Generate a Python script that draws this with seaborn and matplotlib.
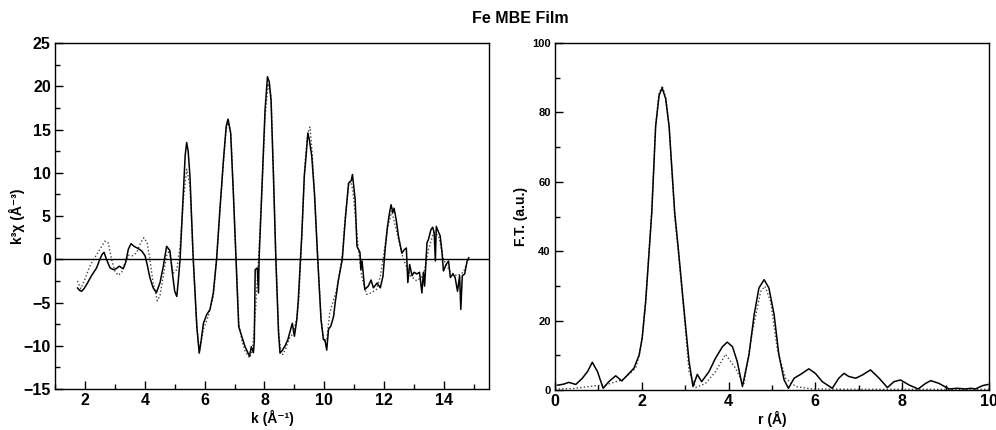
import matplotlib
matplotlib.use("Agg")
import matplotlib.pyplot as plt
from matplotlib.ticker import MultipleLocator
import seaborn as sns
import pandas as pd

# k-space EXAFS: measured k^3-weighted chi(k) and model fit
k_data = [1.75, 1.82, 1.89, 1.97, 2.06, 2.22, 2.39, 2.50, 2.58, 2.64, 2.72, 2.84, 2.95, 3.04,
          3.15, 3.28, 3.36, 3.45, 3.54, 3.64, 3.75, 3.90, 4.01, 4.08, 4.17, 4.28, 4.39, 4.51,
          4.62, 4.73, 4.84, 4.92, 5.00, 5.07, 5.12, 5.18, 5.29, 5.35, 5.40, 5.45, 5.51, 5.62,
          5.74, 5.82, 5.88, 5.96, 6.07, 6.18, 6.29, 6.40, 6.51, 6.63, 6.72, 6.78, 6.87, 6.96,
          7.05, 7.14, 7.24, 7.35, 7.43, 7.50, 7.56, 7.63, 7.66, 7.69, 7.76, 7.80, 7.82, 7.91,
          8.02, 8.10, 8.16, 8.22, 8.30, 8.38, 8.47, 8.52, 8.60, 8.69, 8.78, 8.86, 8.93, 9.00,
          9.08, 9.13, 9.25, 9.33, 9.38, 9.45, 9.50, 9.58, 9.67, 9.78, 9.89, 9.97, 10.02, 10.08,
          10.14, 10.22, 10.31, 10.36, 10.47, 10.60, 10.70, 10.81, 10.90, 10.94, 11.03, 11.09,
          11.19, 11.22, 11.26, 11.35, 11.47, 11.56, 11.64, 11.76, 11.87, 11.96, 12.03, 12.11,
          12.18, 12.23, 12.29, 12.33, 12.40, 12.48, 12.59, 12.67, 12.74, 12.79, 12.85, 12.93,
          13.00, 13.09, 13.18, 13.26, 13.31, 13.35, 13.43, 13.48, 13.56, 13.62, 13.67, 13.71,
          13.74, 13.82, 13.87, 13.93, 13.98, 14.07, 14.15, 14.21, 14.30, 14.37, 14.45, 14.52,
          14.56, 14.61, 14.69, 14.77, 14.83]
chi_data = [-3.3, -3.6, -3.7, -3.4, -2.9, -1.9, -1.0, 0.0, 0.6, 0.8, 0.0, -1.0, -1.2, -1.1,
            -0.8, -1.1, -0.4, 1.15, 1.8, 1.5, 1.3, 0.96, 0.4, -0.6, -2.1, -3.3, -3.85, -2.7,
            -0.8, 1.5, 1.0, -1.5, -3.7, -4.3, -2.5, 0.0, 7.65, 12.0, 13.5, 12.5, 9.6, 0.0,
            -7.8, -10.85, -9.5, -7.4, -6.4, -5.8, -3.9, 0.0, 5.7, 11.5, 15.35, 16.2, 14.6, 7.65,
            0.0, -7.8, -8.9, -10.1, -10.7, -11.2, -10.1, -10.8, -9.5, -1.2, -1.0, -3.9, 0.0, 7.65,
            17.3, 21.1, 20.5, 18.4, 9.6, 0.0, -8.5, -10.85, -10.5, -10.0, -9.3, -8.3, -7.4, -8.9,
            -7.0, -4.7, 3.0, 9.6, 11.5, 14.6, 13.8, 11.9, 7.65, 0.0, -7.0, -9.3, -9.3, -10.5,
            -8.1, -7.7, -6.6, -5.1, -2.4, 0.0, 4.6, 8.8, 9.1, 9.8, 6.9, 1.5,
            0.8, -1.2, -0.2, -3.5, -3.1, -2.4, -3.3, -2.75, -3.3, -1.95, 1.1, 3.8,
            5.4, 6.3, 5.4, 5.9, 4.6, 2.6, 0.7, 1.1, 1.3, -2.7, -0.6, -1.9,
            -1.5, -1.7, -1.5, -3.9, -1.5, -3.1, 1.9, 2.3, 3.4, 3.7, 3.1, -0.2,
            3.8, 3.1, 2.7, 0.9, -1.35, -0.6, -0.2, -2.1, -1.7, -2.1, -3.7, -1.9,
            -5.8, -1.9, -1.7, -0.2, 0.2]

k_fit = [1.75, 1.86, 2.00, 2.17, 2.33, 2.50, 2.67, 2.78, 2.89, 3.00, 3.11, 3.23, 3.34, 3.45,
         3.59, 3.73, 3.86, 3.97, 4.08, 4.17, 4.28, 4.42, 4.51, 4.62, 4.73, 4.82, 4.95, 5.07,
         5.18, 5.29, 5.40, 5.51, 5.62, 5.74, 5.82, 5.96, 6.12, 6.29, 6.40, 6.51, 6.63, 6.72,
         6.80, 6.88, 6.96, 7.05, 7.14, 7.24, 7.35, 7.50, 7.60, 7.70, 7.80, 7.91, 8.02, 8.12,
         8.22, 8.30, 8.38, 8.47, 8.55, 8.62, 8.72, 8.85, 8.96, 9.08, 9.15, 9.25, 9.35, 9.45,
         9.52, 9.60, 9.68, 9.78, 9.89, 9.98, 10.08, 10.18, 10.30, 10.40, 10.50, 10.60, 10.70,
         10.82, 10.88, 10.95, 11.05, 11.13, 11.25, 11.41, 11.55, 11.74, 11.87, 11.97, 12.11,
         12.25, 12.48, 12.64, 12.87, 13.09, 13.31, 13.48, 13.65, 13.82, 13.98, 14.21, 14.43,
         14.65, 14.83]
chi_fit = [-2.5, -3.4, -2.3, -0.77, 0.2, 1.15, 2.1, 1.9, 0.0, -1.35, -1.85, -1.5, -0.4, 0.46,
           0.4, 0.77, 1.9, 2.5, 1.9, 0.0, -2.7, -4.8, -4.2, -1.9, 0.4, 1.0, -1.6, -1.2,
           1.5, 6.9, 10.4, 8.5, 0.0, -7.8, -10.8, -8.1, -6.6, -4.3, 0.0, 5.5, 11.3, 15.0,
           16.0, 14.4, 7.9, 0.2, -7.3, -9.3, -10.6, -11.4, -10.5, -6.0, 0.0, 7.5, 16.5, 20.3,
           18.8, 10.2, 0.3, -8.2, -10.9, -11.0, -10.2, -9.0, -8.6, -6.8, -4.5, 3.0, 11.0, 14.6,
           15.3, 12.0, 7.0, 0.0, -6.8, -9.5, -9.3, -6.2, -4.8, -3.7, -1.8, 0.5, 5.0,
           8.8, 9.0, 8.0, 4.5, 1.35, -2.0, -4.05, -3.9, -3.5, -2.0, 0.2, 3.5,
           5.6, 2.3, 0.0, -1.9, -2.5, -1.9, 1.1, 3.1, 2.7, 0.0, -1.5, -1.9,
           -1.5, 0.2]

# r-space: magnitude of the Fourier transform, data and fit
r_data = [0.05, 0.09, 0.20, 0.32, 0.40, 0.48, 0.63, 0.75, 0.86, 0.98, 1.11, 1.24, 1.40, 1.54,
          1.67, 1.82, 1.94, 2.01, 2.09, 2.17, 2.23, 2.32, 2.40, 2.47, 2.55, 2.63, 2.76, 2.84,
          2.97, 3.09, 3.18, 3.28, 3.38, 3.55, 3.70, 3.86, 3.97, 4.09, 4.20, 4.32, 4.47, 4.59,
          4.70, 4.82, 4.93, 5.05, 5.16, 5.28, 5.38, 5.51, 5.66, 5.85, 6.00, 6.16, 6.39, 6.54,
          6.66, 6.77, 6.93, 7.08, 7.27, 7.47, 7.66, 7.81, 7.96, 8.16, 8.37, 8.54, 8.66, 8.85,
          9.08, 9.27, 9.46, 9.58, 9.69, 9.85, 9.98]
ft_data = [1.4, 1.45, 1.7, 2.2, 1.9, 1.6, 3.4, 5.3, 8.0, 5.3, 0.5, 2.4, 4.1, 2.6,
           4.3, 6.3, 10.1, 15.0, 25.5, 40.0, 51.0, 76.0, 85.0, 87.0, 84.0, 76.0, 51.0, 41.0,
           23.6, 8.2, 1.0, 4.5, 2.4, 5.3, 9.2, 12.5, 13.8, 12.5, 8.2, 1.0, 10.1, 21.7,
           29.4, 31.8, 29.4, 21.7, 10.1, 2.9, 0.5, 3.4, 4.5, 6.1, 4.8, 2.4, 0.5, 3.4,
           4.8, 3.9, 3.4, 4.3, 5.8, 3.4, 0.7, 2.4, 2.9, 1.45, 0.3, 1.9, 2.7, 1.9,
           0.3, 0.5, 0.3, 0.5, 0.3, 1.25, 1.6]

r_fit = [0.00, 0.40, 0.78, 0.94, 1.17, 1.40, 1.55, 1.70, 1.86, 1.94, 2.01, 2.09, 2.17, 2.23,
         2.32, 2.40, 2.47, 2.55, 2.63, 2.76, 2.84, 2.97, 3.09, 3.24, 3.47, 3.70, 3.93, 4.16,
         4.35, 4.55, 4.74, 4.84, 4.97, 5.12, 5.31, 5.55, 5.93, 7.00, 8.50, 10.0]
ft_fit = [0.3, 0.4, 1.0, 1.25, 1.45, 2.4, 2.9, 4.5, 6.3, 10.0, 15.0, 25.5, 40.5, 51.5,
          76.5, 85.5, 87.7, 84.5, 76.0, 50.0, 40.0, 22.7, 5.3, 0.7, 1.9, 5.3, 10.3, 6.3,
          1.45, 16.9, 28.4, 29.9, 25.5, 12.0, 3.4, 1.0, 0.3, 0.2, 0.2, 0.2]

k_df = pd.DataFrame({"k": k_data, "chi": chi_data})
kfit_df = pd.DataFrame({"k": k_fit, "chi": chi_fit})
r_df = pd.DataFrame({"r": r_data, "ft": ft_data})
rfit_df = pd.DataFrame({"r": r_fit, "ft": ft_fit})

sns.set_style("ticks")
plt.rcParams["font.family"] = ["Liberation Sans", "DejaVu Sans"]
plt.rcParams["font.weight"] = "bold"
plt.rcParams["axes.linewidth"] = 1.0
plt.rcParams["text.color"] = "black"
plt.rcParams["axes.labelcolor"] = "black"
plt.rcParams["xtick.color"] = "black"
plt.rcParams["ytick.color"] = "black"

fig = plt.figure(figsize=(9.96, 4.30), dpi=100)
ax1 = fig.add_axes([0.0552, 0.0953, 0.4357, 0.8047])
ax2 = fig.add_axes([0.5572, 0.0930, 0.4357, 0.8070])

data_kw = dict(color="black", linewidth=1.1, estimator=None, sort=False)
fit_kw = dict(color="#444444", linewidth=1.0, estimator=None, sort=False,
              linestyle=(0, (1, 1.6)))

sns.lineplot(data=kfit_df, x="k", y="chi", ax=ax1, **fit_kw)
sns.lineplot(data=k_df, x="k", y="chi", ax=ax1, **data_kw)
ax1.axhline(0, color="black", linewidth=1.0)
ax1.set_xlim(1.0, 15.5)
ax1.set_ylim(-15, 25)
ax1.xaxis.set_major_locator(MultipleLocator(2))
ax1.xaxis.set_minor_locator(MultipleLocator(1))
ax1.yaxis.set_major_locator(MultipleLocator(5))
ax1.yaxis.set_minor_locator(MultipleLocator(2.5))
ax1.set_xlabel("k (Å⁻¹)", fontsize=10, fontweight="bold", labelpad=1)
ax1.set_ylabel("k³χ (Å⁻³)", fontsize=10, fontweight="bold")
ax1.yaxis.set_label_coords(-0.069, 0.5)

sns.lineplot(data=rfit_df, x="r", y="ft", ax=ax2, **fit_kw)
sns.lineplot(data=r_df, x="r", y="ft", ax=ax2, **data_kw)
ax2.set_xlim(0, 10)
ax2.set_ylim(0, 100)
ax2.xaxis.set_major_locator(MultipleLocator(2))
ax2.xaxis.set_minor_locator(MultipleLocator(1))
ax2.yaxis.set_major_locator(MultipleLocator(20))
ax2.yaxis.set_minor_locator(MultipleLocator(10))
ax2.set_xlabel("r (Å)", fontsize=10, fontweight="bold", labelpad=1)
ax2.set_ylabel("F.T. (a.u.)", fontsize=10, fontweight="bold")
ax2.yaxis.set_label_coords(-0.062, 0.5)

for ax in (ax1, ax2):
    for side in ("top", "right", "left", "bottom"):
        ax.spines[side].set_visible(True)
        ax.spines[side].set_color("black")
    ax.tick_params(which="major", direction="in", length=6, width=1.0,
                   labelsize=11.5, pad=3, colors="black")
    ax.tick_params(which="minor", direction="in", length=3.5, width=1.0)
    for lbl in ax.get_xticklabels() + ax.get_yticklabels():
        lbl.set_fontweight("bold")

ax2.tick_params(axis="y", labelsize=8)

fig.text(0.522, 0.958, "Fe MBE Film", ha="center", va="center",
         fontsize=11.5, fontweight="bold", color="black")

fig.savefig("out.png", dpi=100)
